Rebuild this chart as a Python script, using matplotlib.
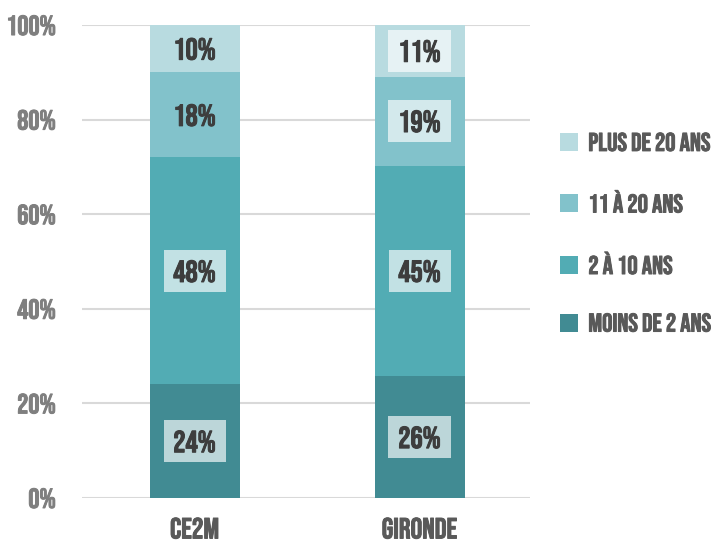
import matplotlib.pyplot as plt
import matplotlib.patheffects as pe
import numpy as np

# data
groups = ['CE2M', 'GIRONDE']
series = ['MOINS DE 2 ANS', '2 À 10 ANS', '11 À 20 ANS', 'PLUS DE 20 ANS']
moins_2 = [24, 26]
de_2_10 = [48, 45]
de_11_20 = [18, 19]
plus_20 = [10, 11]
colors = ['#418b93', '#52acb4', '#82c2cb', '#b8dbe0']

plt.rcParams['font.family'] = ['Bebas Neue', 'DejaVu Sans']


def heavy(color):
    # Bebas Neue only comes in one weight, thicken it a bit
    return [pe.withStroke(linewidth=0.7, foreground=color)]


values = np.array([moins_2, de_2_10, de_11_20, plus_20], dtype=float)
shares = values / values.sum(axis=0) * 100  # stacked to 100%

fig = plt.figure(figsize=(7.14, 5.44), dpi=100)
ax = fig.add_axes([0.115, 0.0846, 0.627, 0.8694])

x = np.arange(len(groups))
bottom = np.zeros(len(groups))
# no label boxes on the two top CE2M segments
show_box = [[True, True], [True, True], [False, True], [False, True]]
for i, name in enumerate(series):
    ax.bar(x, shares[i], bottom=bottom, width=0.4, color=colors[i], label=name, zorder=2)
    for j in range(len(groups)):
        box = dict(boxstyle='square,pad=0.32', facecolor='white', alpha=0.65, edgecolor='none') if show_box[i][j] else None
        ax.text(x[j], bottom[j] + shares[i][j] / 2, f'{int(values[i][j])}%',
                ha='center', va='center', fontsize=22, color='#3d3d3d', bbox=box, zorder=3,
                path_effects=heavy('#3d3d3d'))
    bottom += shares[i]

ax.set_xlim(-0.5, 1.49)
ax.set_ylim(0, 100)
ax.set_yticks([0, 20, 40, 60, 80, 100])
ax.set_yticklabels([f'{v}%' for v in [0, 20, 40, 60, 80, 100]])
ax.set_xticks(x)
ax.set_xticklabels(groups)
ax.tick_params(axis='y', length=0, pad=19, labelsize=20, labelcolor='#7f7f7f')
ax.tick_params(axis='x', length=0, pad=14, labelsize=21, labelcolor='#595959')
for t in ax.get_yticklabels():
    t.set_path_effects(heavy('#7f7f7f'))
for t in ax.get_xticklabels():
    t.set_path_effects(heavy('#595959'))
ax.grid(axis='y', color='#d9d9d9', linewidth=1.5, zorder=0)
for s in ax.spines.values():
    s.set_visible(False)

h, l = ax.get_legend_handles_labels()
leg = fig.legend(h[::-1], l[::-1], loc='center left', bbox_to_anchor=(0.752, 0.574),
                 frameon=False, fontsize=18.5, labelspacing=1.5, handlelength=0.7,
                 handleheight=0.7, handletextpad=0.4)
for t in leg.get_texts():
    t.set_color('#595959')
    t.set_path_effects(heavy('#595959'))

plt.savefig('out.png')
